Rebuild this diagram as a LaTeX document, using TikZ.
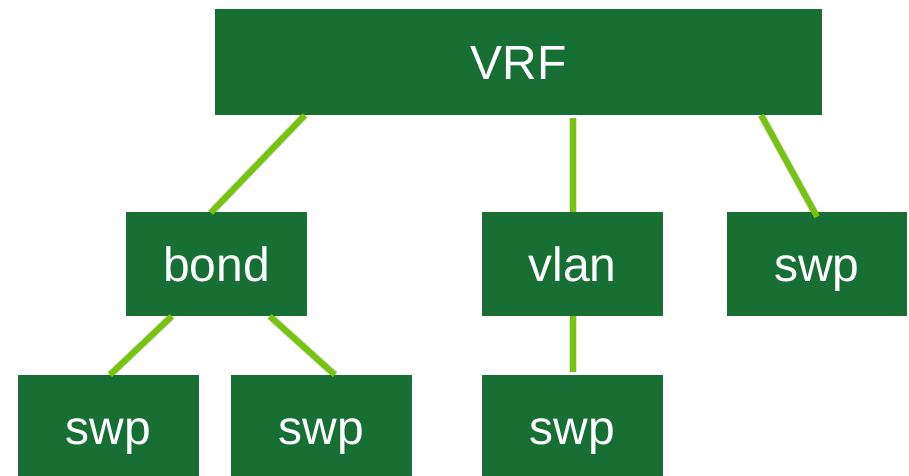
\documentclass[tikz,border=0pt]{standalone}
\usepackage{fontspec}
\setmainfont{Liberation Sans}
\usetikzlibrary{calc}
\definecolor{boxgreen}{RGB}{23,111,51}
\definecolor{linkgreen}{RGB}{118,196,14}
\begin{document}
\begin{tikzpicture}[x=1pt,y=-1pt,
  box/.style={fill=boxgreen,draw=none,inner sep=0pt,text=white,
    font=\fontsize{48}{48}\selectfont,text height=40pt,text depth=6pt},
  link/.style={draw=linkgreen,line width=6pt},
  shade/.style={draw=black,opacity=0.12,line width=8pt}]
\useasboundingbox (0,0) rectangle (909,475);
\clip (0,0) rectangle (909,475);
\node[box,minimum width=607pt,minimum height=106pt] (vrf) at (518.5,62) {VRF};
\node[box,minimum width=181pt,minimum height=104pt] (bond) at (216.5,264) {bond};
\node[box,minimum width=181pt,minimum height=104pt] (vlan) at (572.5,264) {vlan};
\node[box,minimum width=180pt,minimum height=104pt] (swpr) at (817,264) {swp};
\node[box,minimum width=181pt,minimum height=104pt] (swpa) at (108.5,427) {swp};
\node[box,minimum width=181pt,minimum height=104pt] (swpb) at (321.5,427) {swp};
\node[box,minimum width=181pt,minimum height=104pt] (swpc) at (572.5,427) {swp};
% links
\coordinate (a1) at ([xshift=90pt]vrf.south west);
\coordinate (a2) at ([xshift=85pt,yshift=-1pt]bond.north west);
\coordinate (b1) at ($(vlan.north |- vrf.south)+(0,3)$);
\coordinate (b2) at (vlan.north);
\coordinate (c1) at ([xshift=-61pt]vrf.south east);
\coordinate (c2) at ([yshift=-5pt]swpr.north);
\coordinate (d1) at ([xshift=46pt]bond.south west);
\coordinate (d2) at ([xshift=1.5pt]swpa.north);
\coordinate (e1) at ([xshift=144pt]bond.south west);
\coordinate (e2) at ([xshift=104pt]swpb.north west);
\coordinate (f1) at (vlan.south);
\coordinate (f2) at ([yshift=3pt]swpc.north);
\begin{scope}[shift={(3,2)}]
\foreach \p/\q in {a1/a2,b1/b2,c1/c2,d1/d2,e1/e2,f1/f2}
  \draw[shade] (\p) -- (\q);
\end{scope}
\draw[link] (a1) -- (a2);
\draw[link] (b1) -- (b2);
\draw[link] (c1) -- (c2);
\draw[link] (d1) -- (d2);
\draw[link] (e1) -- (e2);
\draw[link] (f1) -- (f2);
\end{tikzpicture}
\end{document}
